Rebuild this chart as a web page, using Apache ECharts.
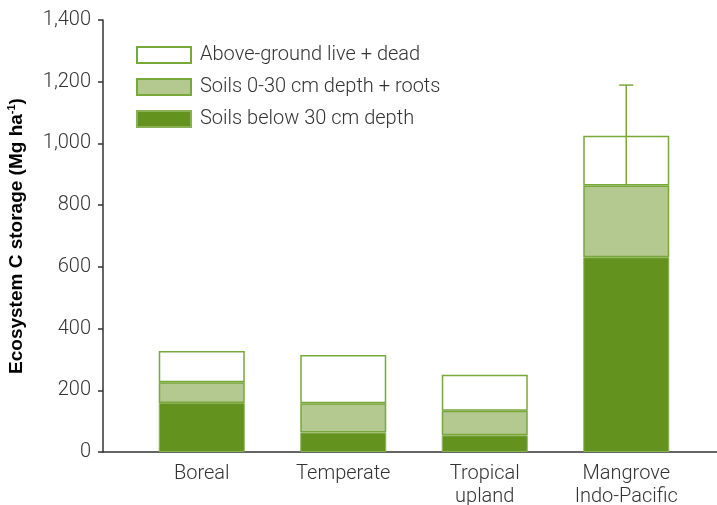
<!DOCTYPE html>
<html>
<head>
    <meta charset="UTF-8">
    <title>Ecosystem C storage</title>
    <script src="https://cdn.jsdelivr.net/npm/echarts@6/dist/echarts.min.js"></script>
</head>
<body style="margin:0">
<div id="main" style="width: 717px;height:505px;"></div>
<script type="text/javascript">
    // 数据
    var categories = ['Boreal', 'Temperate', 'Tropical\nupland', 'Mangrove\nIndo-Pacific'];
    var soilsBelow = [159, 63, 54, 631];      // Soils below 30 cm depth
    var soilsTop = [67, 95, 80, 233];         // Soils 0-30 cm depth + roots
    var aboveGround = [101, 156, 116, 161];   // Above-ground live + dead
    var errorTop = [null, null, null, 1189];  // 误差线上端
    var yTicks = [0, 200, 400, 600, 800, 1000, 1200, 1400];

    var green = '#64921e';
    var lightGreen = '#b3c98f';
    var edge = '#78a83a';

    var errData = [];
    errorTop.forEach(function (v, i) {
        if (v != null) errData.push([i, soilsBelow[i] + soilsTop[i], v]);
    });

    var myChart = echarts.init(document.getElementById('main'));

    var option = {
        animation: false,
        textStyle: {fontFamily: 'Roboto'},
        grid: [
            {left: 131, right: 20, top: 20, bottom: 53, outerBoundsMode: 'none'},
            {left: 103, right: 0, top: 20, bottom: 53, outerBoundsMode: 'none'}
        ],
        legend: {
            orient: 'vertical',
            left: 131,
            top: 40,
            itemWidth: 54,
            itemHeight: 16,
            itemGap: 12,
            icon: 'rect',
            data: ['Above-ground live + dead', 'Soils 0-30 cm depth + roots', 'Soils below 30 cm depth'],
            textStyle: {fontSize: 20, fontWeight: 300, color: '#333', padding: [0, 0, 0, 4]}
        },
        xAxis: [
            {
                type: 'category',
                data: categories,
                gridIndex: 0,
                axisLine: {show: false},
                axisTick: {show: false},
                axisLabel: {fontSize: 20, fontWeight: 300, color: '#333', margin: 10, lineHeight: 23}
            },
            {
                type: 'value',
                gridIndex: 1,
                min: 0, max: 1,
                axisLine: {show: true, lineStyle: {color: '#333', width: 1.5}},
                axisTick: {show: false},
                axisLabel: {show: false},
                splitLine: {show: false}
            }
        ],
        yAxis: [
            {
                type: 'value',
                gridIndex: 0,
                min: yTicks[0],
                max: yTicks[yTicks.length - 1],
                interval: 200,
                offset: 28,
                name: '{b|Ecosystem C storage (Mg ha}{s|-1}{b|)}',
                nameLocation: 'middle',
                nameGap: 75,
                nameTextStyle: {
                    rich: {
                        b: {fontFamily: 'Liberation Sans', fontWeight: 'bold', fontSize: 19, color: '#000', lineHeight: 22},
                        s: {fontFamily: 'Liberation Sans', fontWeight: 'bold', fontSize: 11, color: '#000', verticalAlign: 'top', lineHeight: 22}
                    }
                },
                axisLine: {show: true, lineStyle: {color: '#333', width: 1.5}},
                axisTick: {show: true, length: 5, lineStyle: {color: '#333', width: 1.5}},
                axisLabel: {
                    fontSize: 20, fontWeight: 300, color: '#333', margin: 12,
                    formatter: function (v) { return v.toLocaleString('en-US'); }
                },
                splitLine: {show: false}
            },
            {
                type: 'value',
                gridIndex: 1,
                show: false
            }
        ],
        series: [
            {
                name: 'Soils below 30 cm depth',
                type: 'bar',
                stack: 'total',
                barWidth: 86,
                data: soilsBelow,
                itemStyle: {color: green, borderColor: '#8ab055', borderWidth: 1}
            },
            {
                name: 'Soils 0-30 cm depth + roots',
                type: 'bar',
                stack: 'total',
                barWidth: 86,
                data: soilsTop,
                itemStyle: {color: lightGreen, borderColor: edge, borderWidth: 1.5}
            },
            {
                name: 'Above-ground live + dead',
                type: 'bar',
                stack: 'total',
                barWidth: 86,
                data: aboveGround,
                itemStyle: {color: '#fff', borderColor: edge, borderWidth: 1.5}
            },
            {
                type: 'custom',
                z: 5,
                data: errData,
                renderItem: function (params, api) {
                    var lo = api.coord([api.value(0), api.value(1)]);
                    var hi = api.coord([api.value(0), api.value(2)]);
                    var st = {stroke: edge, lineWidth: 1.5};
                    return {
                        type: 'group',
                        children: [
                            {type: 'line', shape: {x1: lo[0], y1: lo[1], x2: hi[0], y2: hi[1]}, style: st},
                            {type: 'line', shape: {x1: hi[0] - 7, y1: hi[1], x2: hi[0] + 7, y2: hi[1]}, style: st}
                        ]
                    };
                }
            }
        ]
    };

    myChart.setOption(option);
</script>
</body>
</html>
